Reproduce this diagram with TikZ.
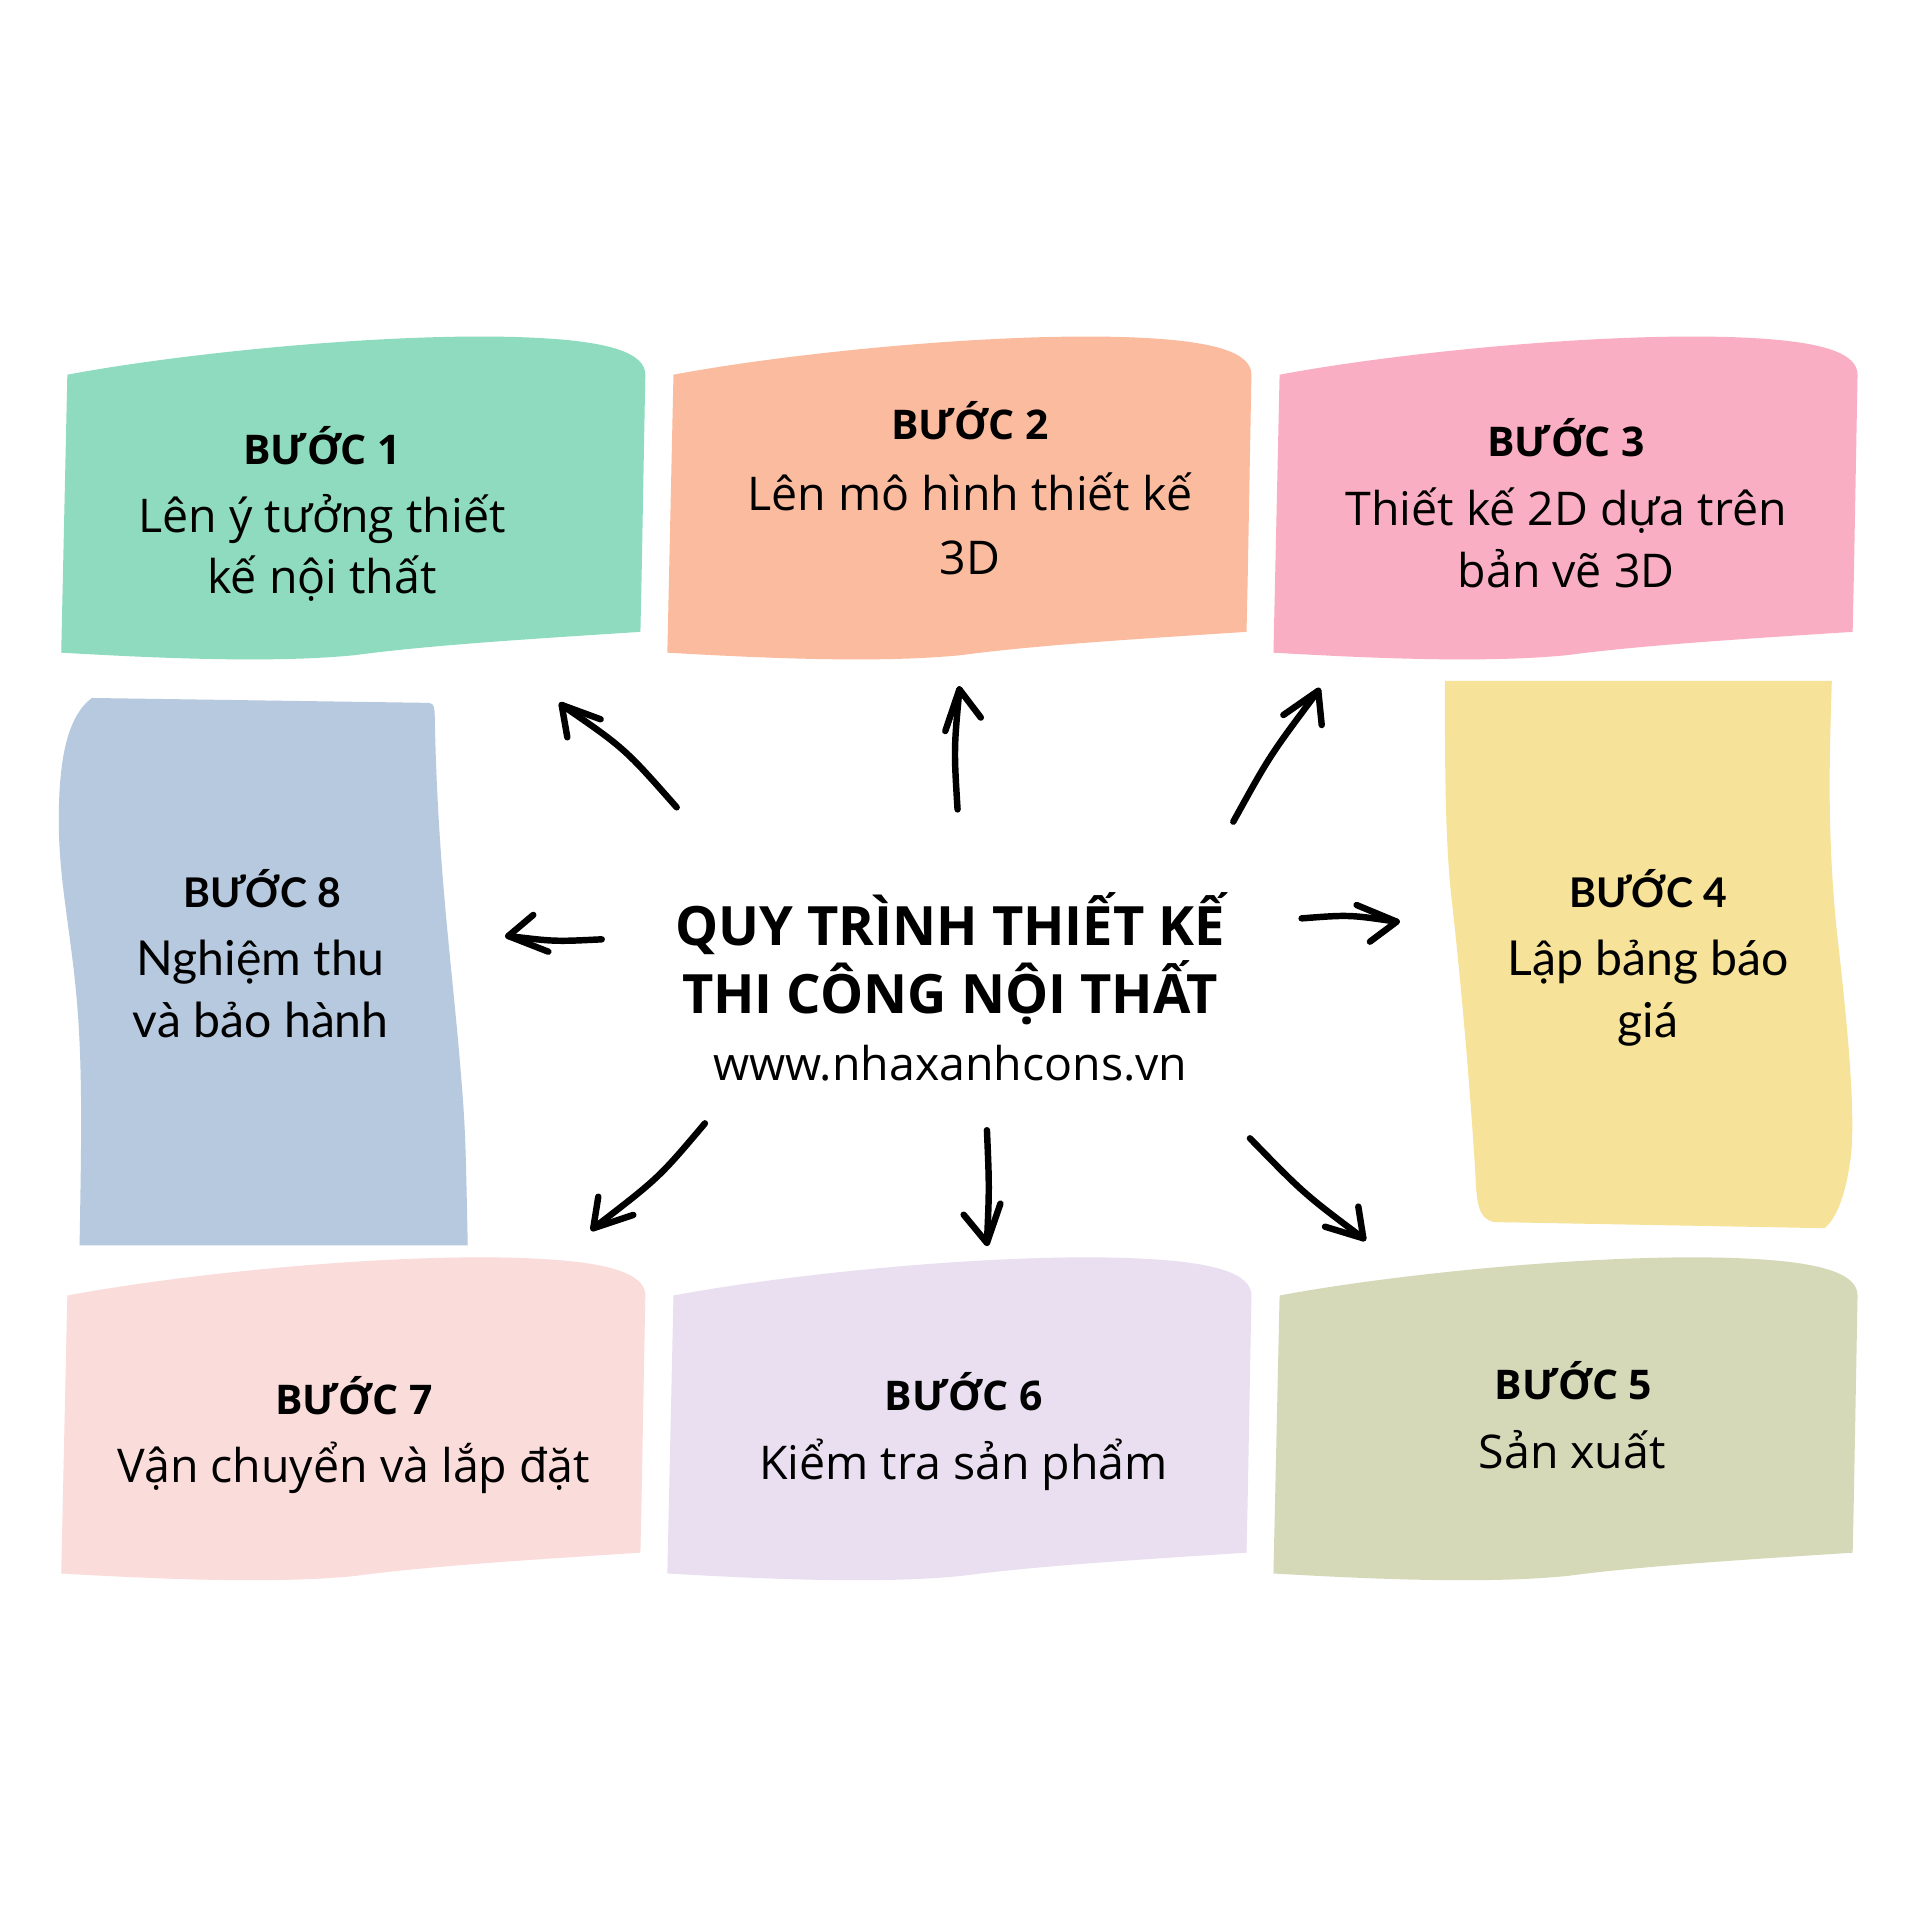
\documentclass[tikz,border=0pt]{standalone}
\usepackage{fontspec}
\setmainfont{Open Sans}
\newfontfamily\latofont{Lato}
\definecolor{cgreen}{HTML}{8EDBC0}
\definecolor{corange}{HTML}{FBBB9E}
\definecolor{cpink}{HTML}{F9AEC3}
\definecolor{cyellow}{HTML}{F6E298}
\definecolor{cblue}{HTML}{B7C9DF}
\definecolor{cblush}{HTML}{FADCDA}
\definecolor{clav}{HTML}{E9DFF1}
\definecolor{colive}{HTML}{D5D9B8}
\tikzset{
  topblob/.pic={\path[pic actions] (55,306) .. controls (150,288) and (330,270) .. (440,276)
     .. controls (497,279) and (527,288) .. (527,306) -- (524,470) -- (523,516)
     .. controls (430,522) and (350,527) .. (290,535)
     .. controls (220,542) and (120,537) .. (50,533) -- cycle;},
  lbl/.style={anchor=base, inner sep=0pt, font=\fontsize{9.5}{12}\selectfont\bfseries},
  body/.style={anchor=base, inner sep=0pt, font=\fontsize{10.8}{13}\selectfont},
  lblw/.style={anchor=base, inner sep=0pt, font=\latofont\fontsize{9.5}{12}\selectfont\bfseries},
  bodyw/.style={anchor=base, inner sep=0pt, font=\latofont\fontsize{11.2}{13}\selectfont},
  ttl/.style={anchor=base, inner sep=0pt, font=\fontsize{12.6}{15}\selectfont\bfseries},
  urltxt/.style={anchor=base, inner sep=0pt, font=\fontsize{10.8}{13}\selectfont},
  harrow/.style={line width=1.5pt, line cap=round, line join=round, draw=black},
}
\begin{document}
\begin{tikzpicture}[x=0.1mm, y=-0.1mm]
\useasboundingbox[fill=white] (0,0) rectangle (1568,1568);

% blobs
\pic[fill=cgreen] at (0,0) {topblob};
\pic[fill=corange] at (495,0) {topblob};
\pic[fill=cpink] at (990,0) {topblob};
\pic[fill=cblush] at (0,752) {topblob};
\pic[fill=clav] at (495,752) {topblob};
\pic[fill=colive] at (990,752) {topblob};

\fill[cblue] (75,570) -- (350,574) .. controls (354,575) .. (355,582)
  .. controls (357,700) and (368,780) .. (375,860) .. controls (380,920) .. (382,1017)
  -- (65,1017) .. controls (66,950) and (68,880) .. (63,820)
  .. controls (58,760) and (48,720) .. (48,670) .. controls (48,620) and (55,585) .. (75,570) -- cycle;

\fill[cyellow] (1180,556) -- (1496,556) .. controls (1494,620) and (1492,680) .. (1500,760)
  .. controls (1508,830) and (1515,900) .. (1512,940) .. controls (1508,975) and (1500,995) .. (1490,1003)
  -- (1220,998) .. controls (1208,995) and (1206,985) .. (1205,960)
  .. controls (1200,880) and (1193,800) .. (1185,730) .. controls (1180,680) and (1180,620) .. (1180,556) -- cycle;

% texts
\node[lbl] (s1h) at (263,379) {BƯỚC 1};
\node[body] (s1a) at (263,435) {Lên ý tưởng thiết};
\node[body] (s1b) at (263,485) {kế nội thất};

\node[lbl] (s2h) at (792,359) {BƯỚC 2};
\node[body] (s2a) at (792,417) {Lên mô hình thiết kế};
\node[body] (s2b) at (792,469) {3D};

\node[lbl] (s3h) at (1279,373) {BƯỚC 3};
\node[body] (s3a) at (1279,429) {Thiết kế 2D dựa trên};
\node[body] (s3b) at (1279,480) {bản vẽ 3D};

\node[lblw] (s4h) at (1346,741) {BƯỚC 4};
\node[bodyw] (s4a) at (1346,797) {Lập bảng báo};
\node[bodyw] (s4b) at (1346,847) {giá};

\node[lblw] (s8h) at (214,741) {BƯỚC 8};
\node[bodyw] (s8a) at (213,797) {Nghiệm thu};
\node[bodyw] (s8b) at (213,847) {và bảo hành};

\node[lbl] (s7h) at (289,1155) {BƯỚC 7};
\node[body] (s7a) at (289,1211) {Vận chuyển và lắp đặt};

\node[lbl] (s6h) at (787,1152) {BƯỚC 6};
\node[body] (s6a) at (787,1208) {Kiểm tra sản phẩm};

\node[lbl] (s5h) at (1285,1143) {BƯỚC 5};
\node[body] (s5a) at (1284,1199) {Sản xuất};

\node[ttl] (t1) at (776,772) {QUY TRÌNH THIẾT KẾ};
\node[ttl] (t2) at (776,828) {THI CÔNG NỘI THẤT};
\node[urltxt] (t3) at (776,882) {www.nhaxanhcons.vn};

% arrow coordinates
\coordinate (a1s) at (552.6,659.3); \coordinate (a1t) at (458.7,575.7);
\coordinate (a1p) at (490.5,587.4); \coordinate (a1q) at (463.3,602.1);
\coordinate (a2s) at (782,661); \coordinate (a2t) at (783.5,563);
\coordinate (a2p) at (772,597); \coordinate (a2q) at (801,586);
\coordinate (a3s) at (1007.2,671); \coordinate (a3t) at (1076.6,564.1);
\coordinate (a3p) at (1048.1,583.9); \coordinate (a3q) at (1079.4,592.1);
\coordinate (a4s) at (491.4,767.1); \coordinate (a4t) at (415.1,764.4);
\coordinate (a4p) at (435.5,747.2); \coordinate (a4q) at (447.8,777.2);
\coordinate (a5s) at (1063,750); \coordinate (a5t) at (1140.6,752.7);
\coordinate (a5p) at (1107.9,739.1); \coordinate (a5q) at (1118.8,769);
\coordinate (a6s) at (575.7,917.4); \coordinate (a6t) at (484.5,1003.1);
\coordinate (a6p) at (488.6,977.3); \coordinate (a6q) at (517.2,992.2);
\coordinate (a7s) at (806,923); \coordinate (a7t) at (806,1015);
\coordinate (a7p) at (787,992); \coordinate (a7q) at (817,983);
\coordinate (a8s) at (1020.8,929.6); \coordinate (a8t) at (1113.4,1011.3);
\coordinate (a8p) at (1109.3,985.4); \coordinate (a8q) at (1082.1,1001.8);

\draw[harrow] (a1s) .. controls (510,611) .. (a1t);
\draw[harrow] (a1p) -- (a1t) -- (a1q);
\draw[harrow] (a2s) .. controls (779,612) .. (a2t);
\draw[harrow] (a2p) -- (a2t) -- (a2q);
\draw[harrow] (a3s) .. controls (1037,617) .. (a3t);
\draw[harrow] (a3p) -- (a3t) -- (a3q);
\draw[harrow] (a4s) .. controls (453,769) .. (a4t);
\draw[harrow] (a4p) -- (a4t) -- (a4q);
\draw[harrow] (a5s) .. controls (1102,747) .. (a5t);
\draw[harrow] (a5p) -- (a5t) -- (a5q);
\draw[harrow] (a6s) .. controls (538,962) .. (a6t);
\draw[harrow] (a6p) -- (a6t) -- (a6q);
\draw[harrow] (a7s) .. controls (808,970) .. (a7t);
\draw[harrow] (a7p) -- (a7t) -- (a7q);
\draw[harrow] (a8s) .. controls (1065,975) .. (a8t);
\draw[harrow] (a8p) -- (a8t) -- (a8q);
\end{tikzpicture}
\end{document}
